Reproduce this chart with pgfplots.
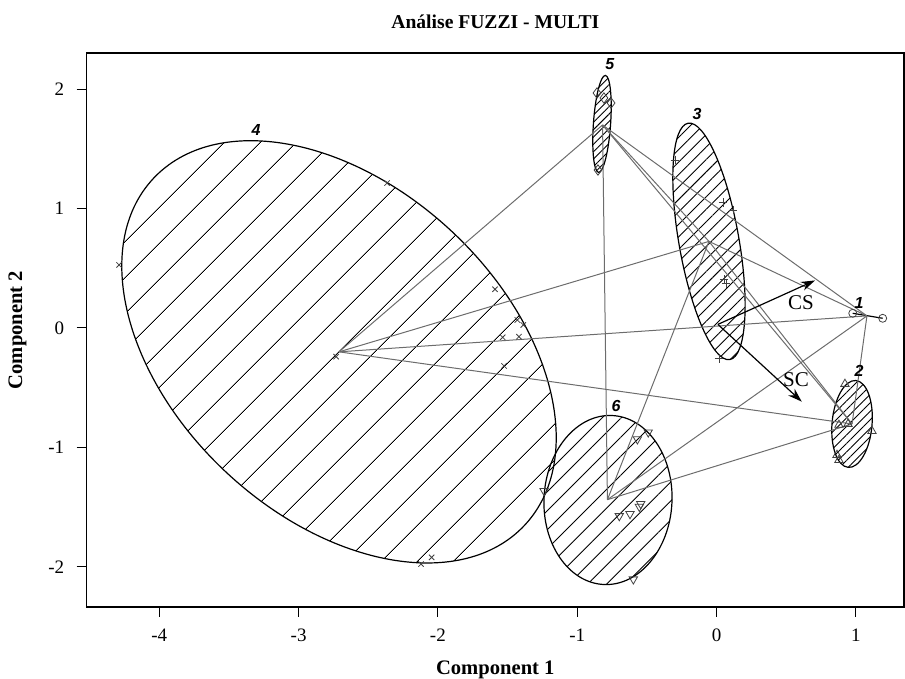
\documentclass[border=0pt]{standalone}
\usepackage{pgfplots}
\pgfplotsset{compat=1.18}
\usepackage{fontspec}
\setmainfont{Liberation Serif}
\newfontfamily\helv{Liberation Sans}
\usetikzlibrary{patterns.meta,arrows.meta}
\begin{document}
\begin{tikzpicture}
\useasboundingbox (-43.3pt,-36pt) rectangle (409.2pt,303.5pt);
\begin{axis}[
  at={(0,0)}, anchor=south west,
  scale only axis, width=408.7pt, height=277pt,
  xmin=-4.522, xmax=1.346, ymin=-2.337, ymax=2.303,
  xtick={-4,-3,-2,-1,0,1}, ytick={-2,-1,0,1,2},
  tick align=outside, tick pos=left, major tick length=5pt,
  tick style={black, line width=0.5pt},
  axis line style={line width=0.6pt},
  /pgf/number format/assume math mode=true,
  ticklabel style={font=\fontsize{9.5}{11}\selectfont},
  xticklabel style={anchor=center, yshift=-9.25pt, inner sep=0pt},
  yticklabel style={anchor=east, xshift=-6pt, inner sep=0pt},
  xlabel={\bfseries Component 1}, ylabel={\bfseries Component 2},
  label style={font=\fontsize{10.3}{12}\selectfont},
  xlabel style={at={(axis description cs:0.5,0)}, anchor=center, yshift=-31.5pt},
  ylabel style={at={(axis description cs:0,0.5)}, anchor=center, yshift=34.5pt},
  title={\bfseries Análise FUZZI - MULTI},
  title style={at={(axis description cs:0.5,1)}, anchor=center, yshift=9.5pt, font=\fontsize{9.8}{12}\selectfont},
]
% ellipses
\draw[line width=0.6pt, pattern={Lines[angle=45,distance=13pt,line width=0.45pt]}, rotate around={-43:(axis cs:-2.71,-0.20)}] (axis cs:-2.71,-0.20) ellipse [x radius=127pt, y radius=82.5pt];
\draw[line width=0.6pt, pattern={Lines[angle=45,distance=4.4pt,line width=0.45pt]}, rotate around={100:(axis cs:-0.054,0.725)}] (axis cs:-0.054,0.725) ellipse [x radius=60pt, y radius=15pt];
\draw[line width=0.6pt, pattern={Lines[angle=45,distance=2.6pt,line width=0.45pt]}, rotate around={86:(axis cs:-0.822,1.709)}] (axis cs:-0.822,1.709) ellipse [x radius=24.3pt, y radius=4.3pt];
\draw[line width=0.6pt, pattern={Lines[angle=45,distance=6.7pt,line width=0.45pt]}, rotate around={87:(axis cs:-0.779,-1.441)}] (axis cs:-0.779,-1.441) ellipse [x radius=42.3pt, y radius=32pt];
\draw[line width=0.6pt, pattern={Lines[angle=45,distance=3pt,line width=0.45pt]}, rotate around={85:(axis cs:0.973,-0.804)}] (axis cs:0.973,-0.804) ellipse [x radius=21.8pt, y radius=10pt];
% degenerate ellipse of cluster 1
\addplot[black, line width=0.6pt] coordinates {(0.978,0.123) (1.193,0.081)};
% distance lines between cluster centres
\pgfplotsset{cl/.style={gray!85!black, line width=0.5pt, forget plot}}
\addplot[cl] coordinates {(1.080,0.101) (0.973,-0.804)};
\addplot[cl] coordinates {(1.080,0.101) (-0.054,0.725)};
\addplot[cl] coordinates {(1.080,0.101) (-2.71,-0.20)};
\addplot[cl] coordinates {(1.080,0.101) (-0.818,1.70)};
\addplot[cl] coordinates {(1.080,0.101) (-0.783,-1.438)};
\addplot[cl] coordinates {(0.973,-0.804) (-0.054,0.725)};
\addplot[cl] coordinates {(0.973,-0.804) (-2.71,-0.20)};
\addplot[cl] coordinates {(0.973,-0.804) (-0.818,1.70)};
\addplot[cl] coordinates {(0.973,-0.804) (-0.783,-1.438)};
\addplot[cl] coordinates {(-0.054,0.725) (-2.71,-0.20)};
\addplot[cl] coordinates {(-0.054,0.725) (-0.818,1.70)};
\addplot[cl] coordinates {(-0.054,0.725) (-0.783,-1.438)};
\addplot[cl] coordinates {(-2.71,-0.20) (-0.818,1.70)};
\addplot[cl] coordinates {(-0.818,1.70) (-0.783,-1.438)};
% points
\pgfplotsset{pt/.style={only marks, black!75, mark options={line width=0.4pt, fill=none}}}
\addplot[pt, mark=o, mark size=2pt] coordinates {(0.978,0.123) (1.193,0.081)};
\addplot[pt, mark=triangle, mark size=2.4pt] coordinates {(0.922,-0.469) (0.879,-0.812) (0.944,-0.804) (1.116,-0.863) (0.865,-1.064) (0.879,-1.106)};
\addplot[pt, mark=+, mark size=2.2pt] coordinates {(-0.298,1.407) (0.047,1.050) (0.118,0.988) (0.054,0.405) (0.068,0.375) (0.018,-0.254)};
\addplot[pt, mark=x, mark size=1.9pt] coordinates {(-4.289,0.528) (-2.365,1.214) (-2.731,-0.240) (-1.590,0.324) (-1.430,0.067) (-1.387,0.025) (-1.535,-0.078) (-1.418,-0.073) (-1.525,-0.318) (-2.121,-1.977) (-2.045,-1.921)};
\addplot[pt, mark=diamond, mark size=2.6pt] coordinates {(-0.858,1.968) (-0.808,1.926) (-0.757,1.884) (-0.851,1.323)};
\addplot[pt, mark=triangle, mark size=2.4pt, mark options={rotate=180}] coordinates {(-0.568,-0.932) (-0.490,-0.874) (-1.238,-1.365) (-0.698,-1.575) (-0.621,-1.558) (-0.554,-1.497) (-0.544,-1.474) (-0.597,-2.105)};
% variable arrows
\addplot[black, line width=0.6pt, -{Stealth[length=7pt,width=4.6pt]}] coordinates {(0.01,0.03) (0.707,0.398)};
\addplot[black, line width=0.6pt, -{Stealth[length=7pt,width=4.6pt]}] coordinates {(0.01,0.03) (0.612,-0.617)};
\node[font=\fontsize{10.5}{12}\selectfont] at (axis cs:0.607,0.209) {CS};
\node[font=\fontsize{10.5}{12}\selectfont] at (axis cs:0.571,-0.436) {SC};
% cluster numbers
\node[font=\helv\bfseries\itshape\fontsize{8}{9}\selectfont] at (axis cs:1.023,0.209) {1};
\node[font=\helv\bfseries\itshape\fontsize{8}{9}\selectfont] at (axis cs:1.023,-0.358) {2};
\node[font=\helv\bfseries\itshape\fontsize{8}{9}\selectfont] at (axis cs:-0.140,1.792) {3};
\node[font=\helv\bfseries\itshape\fontsize{8}{9}\selectfont] at (axis cs:-3.306,1.658) {4};
\node[font=\helv\bfseries\itshape\fontsize{8}{9}\selectfont] at (axis cs:-0.765,2.211) {5};
\node[font=\helv\bfseries\itshape\fontsize{8}{9}\selectfont] at (axis cs:-0.721,-0.653) {6};
\end{axis}
\end{tikzpicture}
\end{document}
